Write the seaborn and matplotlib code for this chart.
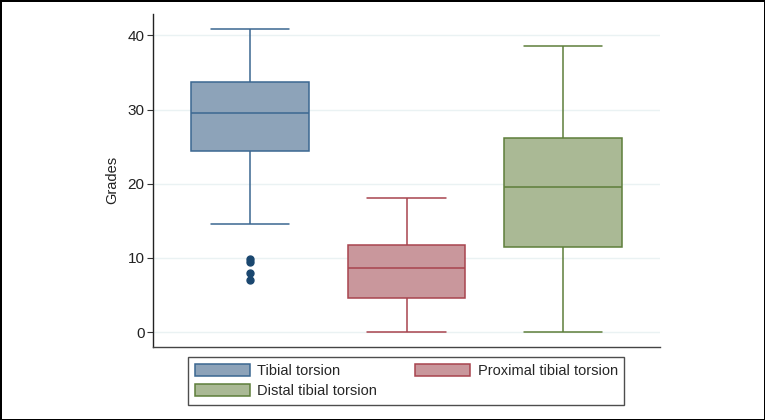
import numpy as np
import pandas as pd
import matplotlib
matplotlib.use("Agg")
import matplotlib.pyplot as plt
import seaborn as sns
from matplotlib.patches import Patch

# five-number summaries
groups = ["Tibial torsion", "Proximal tibial torsion", "Distal tibial torsion"]
whis_lo = [14.6, 0.0, 0.0]
q1 = [24.4, 4.6, 11.5]
median = [29.6, 8.7, 19.5]
q3 = [33.7, 11.8, 26.2]
whis_hi = [40.9, 18.1, 38.6]
outliers = [[7.0, 8.0, 9.4, 9.8], [], []]

fills = ["#8DA3B9", "#C9979C", "#AAB995"]
edges = ["#3B6791", "#A8444E", "#5E7E3A"]
flier_color = "#1A476F"


def build_rows(name, lo, a, m, b, hi, outs):
    # repeat summary values so that the linear percentiles land on them
    if not outs:
        vals = [lo, a, m, b, hi]
    else:
        k = len(outs)
        n = 4 * (k + 1) + 1
        vals = list(outs) + [lo]
        vals += [a] * ((n - 1) // 2 - len(vals))
        vals += [m]
        vals += [b] * (n - 1 - len(vals))
        vals += [hi]
    return pd.DataFrame({"group": name, "value": vals})


df = pd.concat([build_rows(g, *s) for g, *s in
                zip(groups, whis_lo, q1, median, q3, whis_hi, outliers)])

sns.set_style("white")
plt.rcParams["font.family"] = ["Arial", "Liberation Sans", "DejaVu Sans"]

fig = plt.figure(figsize=(7.65, 4.2), dpi=100)
ax = fig.add_axes([0.2, 0.174, 0.663, 0.793])

for g, fc, ec in zip(groups, fills, edges):
    sns.boxplot(data=df[df["group"] == g], x="group", y="value", order=groups,
                color=fc, linecolor=ec, linewidth=1.1, width=0.75,
                saturation=1, whis=1.5, ax=ax,
                flierprops=dict(marker="o", markersize=5,
                                markerfacecolor=flier_color,
                                markeredgecolor=flier_color),
                capprops=dict(color=ec))

# caps a bit wider than seaborn's default
for line in ax.lines:
    xd = np.asarray(line.get_xdata(), dtype=float)
    yd = np.asarray(line.get_ydata(), dtype=float)
    if len(xd) == 2 and yd[0] == yd[1] and abs(xd[1] - xd[0]) < 0.6:
        c = xd.mean()
        line.set_xdata([c - 0.25, c + 0.25])

ax.set_xlim(-0.62, 2.62)
ax.set_ylim(-2.0, 42.9)
ax.set_yticks([0, 10, 20, 30, 40])
ax.yaxis.grid(True, color="#EAF2F3", linewidth=1.0)
ax.set_axisbelow(True)
ax.set_xticks([])
ax.set_xlabel("")
ax.set_ylabel("Grades", fontsize=10.5, color="#222222", labelpad=6)
ax.tick_params(axis="y", left=True, length=4.5, width=0.8, color="#333333",
               labelsize=11, labelcolor="#222222", pad=1.5)
for side in ["top", "right"]:
    ax.spines[side].set_visible(False)
ax.spines["left"].set_color("#222222")
ax.spines["bottom"].set_color("#444444")
ax.spines["left"].set_linewidth(1.0)
ax.spines["bottom"].set_linewidth(1.0)

handles = [Patch(facecolor=fc, edgecolor=ec, linewidth=1.1, label=g)
           for g, fc, ec in zip(groups, fills, edges)]
order = [0, 2, 1]
leg = fig.legend([handles[i] for i in order], [groups[i] for i in order],
                 ncol=2, loc="upper center", bbox_to_anchor=(0.531, 0.15),
                 borderaxespad=0,
                 frameon=True, fancybox=False, edgecolor="#222222",
                 fontsize=10.5, handlelength=3.8, handleheight=0.9,
                 columnspacing=2.6, labelspacing=0.45, borderpad=0.45,
                 handletextpad=0.5)
leg.get_frame().set_linewidth(1.0)

fig.patch.set_edgecolor("black")
fig.patch.set_linewidth(2.0)
fig.savefig("out.png", dpi=100, edgecolor=fig.get_edgecolor())
